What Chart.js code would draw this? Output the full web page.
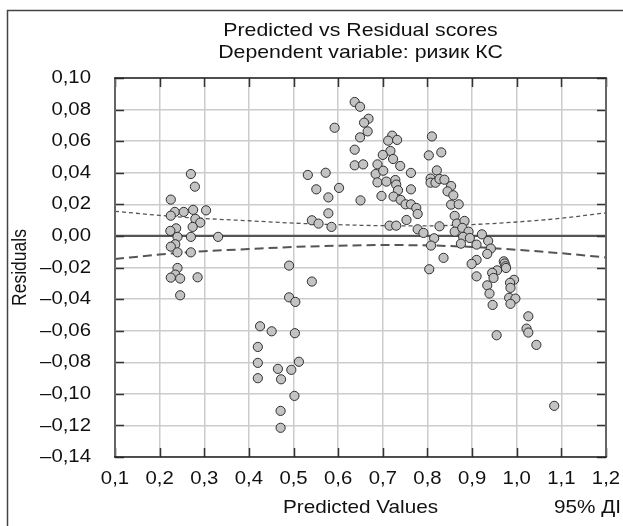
<!DOCTYPE html>
<html>
<head>
<meta charset="utf-8">
<script src="https://cdn.jsdelivr.net/npm/chart.js@4/dist/chart.umd.min.js"></script>
<style>
html,body{margin:0;padding:0;background:#fff;}
canvas{display:block;}
</style>
</head>
<body>
<canvas id="c" width="623" height="526"></canvas>
<script>
const titleLines = ['Predicted vs Residual scores', 'Dependent variable: ризик КС'];
const xAxisTitle = 'Predicted Values';
const yAxisTitle = 'Residuals';
const ciLabel = '95% ДІ';

const xTickValues = [0.1,0.2,0.3,0.4,0.5,0.6,0.7,0.8,0.9,1.0,1.1,1.2];
const xTickLabels = ['0,1','0,2','0,3','0,4','0,5','0,6','0,7','0,8','0,9','1,0','1,1','1,2'];
const yTickValues = [-0.14,-0.12,-0.10,-0.08,-0.06,-0.04,-0.02,0,0.02,0.04,0.06,0.08,0.10];
const yTickLabels = ['–0,14','–0,12','–0,10','–0,08','–0,06','–0,04','–0,02','0,00','0,02','0,04','0,06','0,08','0,10'];

const predicted = [
 0.270,0.279,0.225,0.234,0.225,0.254,0.275,0.304,0.280,0.291,0.274,0.237,0.224,0.240,0.270,0.331,0.235,0.225,0.240,0.270,0.240,0.235,0.225,0.246,0.285,0.246,
 0.490,0.541,0.490,0.504,0.425,0.451,0.503,0.420,0.420,0.512,0.465,0.495,0.420,0.472,0.502,0.471,0.471,
 0.637,0.649,0.668,0.658,0.592,0.666,0.649,0.721,0.712,0.732,0.810,0.637,0.717,0.700,0.723,0.803,0.831,0.637,0.656,0.688,0.739,0.532,0.572,0.684,0.701,0.763,0.821,0.807,0.807,0.818,0.827,0.838,0.551,0.688,0.708,0.728,0.730,0.734,0.763,0.853,0.845,0.858,0.578,0.602,0.650,0.697,0.724,0.740,0.751,0.763,0.775,0.778,0.853,0.870,0.861,0.578,0.541,0.556,0.585,0.715,0.730,0.753,0.827,0.866,0.861,0.778,0.791,0.815,0.808,0.836,0.804,
 0.883,0.878,0.892,0.880,0.895,0.922,0.875,0.936,0.910,0.942,0.934,0.910,0.899,0.971,0.973,0.975,0.976,0.956,0.945,0.948,0.910,0.934,0.939,0.994,0.985,0.986,0.983,0.997,0.946,0.986,1.026,1.022,1.026,0.955,1.044,1.084
];
const residual = [
 0.0392,0.0312,0.0230,0.0152,0.0128,0.0152,0.0165,0.0162,0.0108,0.0084,0.0057,0.0048,0.0032,-0.0006,-0.0006,-0.0006,-0.0053,-0.0068,-0.0104,-0.0104,-0.0203,-0.0245,-0.0264,-0.0270,-0.0262,-0.0376,
 -0.0188,-0.0289,-0.0389,-0.0418,-0.0572,-0.0604,-0.0616,-0.0703,-0.0804,-0.0797,-0.0842,-0.0848,-0.0901,-0.0908,-0.1013,-0.1108,-0.1215,
 0.0848,0.0818,0.0742,0.0717,0.0685,0.0662,0.0624,0.0635,0.0603,0.0608,0.0630,0.0546,0.0538,0.0513,0.0487,0.0510,0.0529,0.0447,0.0453,0.0453,0.0443,0.0386,0.0400,0.0392,0.0413,0.0399,0.0415,0.0363,0.0337,0.0337,0.0361,0.0356,0.0295,0.0339,0.0344,0.0354,0.0325,0.0289,0.0295,0.0316,0.0282,0.0257,0.0244,0.0304,0.0225,0.0253,0.0249,0.0228,0.0200,0.0200,0.0177,0.0139,0.0198,0.0200,0.0127,0.0143,0.0099,0.0078,0.0057,0.0065,0.0065,0.0101,0.0061,0.0078,0.0027,0.0042,0.0019,-0.0015,-0.0061,-0.0139,-0.0211,
 0.0095,0.0051,0.0027,-0.0006,-0.0013,0.0010,-0.0049,-0.0032,-0.0055,-0.0080,-0.0114,-0.0152,-0.0177,-0.0161,-0.0175,-0.0192,-0.0203,-0.0218,-0.0234,-0.0266,-0.0256,-0.0313,-0.0365,-0.0278,-0.0297,-0.0329,-0.0392,-0.0397,-0.0437,-0.0430,-0.0509,-0.0587,-0.0612,-0.0629,-0.0690,-0.1076
];

const ciX     = [0.1,0.2,0.3,0.4,0.5,0.6,0.7,0.8,0.9,1.0,1.1,1.2];
const ciUpper = [0.0156,0.0130,0.0110,0.0096,0.0081,0.0071,0.0065,0.0064,0.0072,0.0088,0.0112,0.0146];
const ciLower = [-0.0146,-0.0118,-0.0097,-0.0083,-0.0070,-0.0062,-0.0058,-0.0060,-0.0070,-0.0088,-0.0110,-0.0136];
const zeroLineX = [0.1, 1.2];
const zeroLineY = [0, 0];

const FONT = '"Liberation Sans", Arial, Helvetica, sans-serif';
const TXT = '#111';

function stretchedText(ctx, text, x, y, align, sx, sizePx) {
  ctx.save();
  ctx.translate(x, y);
  ctx.scale(sx, 1);
  ctx.font = sizePx + 'px ' + FONT;
  ctx.textAlign = align;
  ctx.textBaseline = 'middle';
  ctx.fillText(text, 0, 0);
  ctx.restore();
}

const framePlugin = {
  id: 'framePlugin',
  beforeDraw(chart) {
    const ctx = chart.ctx;
    ctx.save();
    ctx.strokeStyle = '#444';
    ctx.lineWidth = 1.5;
    ctx.beginPath();
    ctx.moveTo(7.5, 526);
    ctx.lineTo(7.5, 10.5);
    ctx.lineTo(623, 10.5);
    ctx.stroke();
    ctx.restore();
  },
  afterDraw(chart) {
    const ctx = chart.ctx;
    const a = chart.chartArea;
    const xs = chart.scales.x, ys = chart.scales.y;
    ctx.save();
    // inward ticks
    ctx.strokeStyle = '#333';
    ctx.lineWidth = 1.5;
    const TL = 9;
    ctx.beginPath();
    xTickValues.forEach(v => {
      const px = Math.round(xs.getPixelForValue(v)) + 0.5;
      ctx.moveTo(px, a.bottom); ctx.lineTo(px, a.bottom - TL);
      ctx.moveTo(px, a.top); ctx.lineTo(px, a.top + TL);
    });
    yTickValues.forEach(v => {
      const py = Math.round(ys.getPixelForValue(v)) + 0.5;
      ctx.moveTo(a.left, py); ctx.lineTo(a.left + TL, py);
      ctx.moveTo(a.right, py); ctx.lineTo(a.right - TL, py);
    });
    ctx.stroke();
    // plot frame
    ctx.lineWidth = 2;
    ctx.strokeStyle = '#666';
    ctx.beginPath();
    ctx.moveTo(a.left, a.top); ctx.lineTo(a.left, a.bottom);
    ctx.moveTo(a.right, a.top); ctx.lineTo(a.right, a.bottom);
    ctx.stroke();
    ctx.strokeStyle = '#222';
    ctx.lineWidth = 1.5;
    ctx.beginPath();
    ctx.moveTo(a.left - 1, a.top); ctx.lineTo(a.right + 1, a.top);
    ctx.moveTo(a.left - 1, a.bottom); ctx.lineTo(a.right + 1, a.bottom);
    ctx.stroke();

    // tick labels (through the library's scales)
    ctx.fillStyle = TXT;
    xTickValues.forEach((v, i) => {
      stretchedText(ctx, xTickLabels[i], xs.getPixelForValue(v), 479, 'center', 1.1, 18.5);
    });
    yTickValues.forEach((v, i) => {
      stretchedText(ctx, yTickLabels[i], 91, ys.getPixelForValue(v), 'right', 1.1, 18.5);
    });

    // titles
    const cx = (a.left + a.right) / 2;
    stretchedText(ctx, titleLines[0], cx, 31, 'center', 1.12, 19);
    stretchedText(ctx, titleLines[1], cx, 53, 'center', 1.12, 19);
    stretchedText(ctx, xAxisTitle, cx, 508, 'center', 1.12, 18.5);
    stretchedText(ctx, ciLabel, 621, 508, 'right', 1.12, 18.5);
    ctx.save();
    ctx.translate(21, (a.top + a.bottom) / 2);
    ctx.rotate(-Math.PI / 2);
    ctx.scale(1, 1.12);
    ctx.font = '17.5px ' + FONT;
    ctx.textAlign = 'center';
    ctx.textBaseline = 'middle';
    ctx.fillText(yAxisTitle, 0, 0);
    ctx.restore();
    ctx.restore();
  }
};

const scatterPoints = predicted.map((x, i) => ({x: x, y: residual[i]}));

new Chart(document.getElementById('c'), {
  type: 'scatter',
  data: {
    datasets: [
      {
        label: 'Residuals',
        data: scatterPoints,
        pointRadius: 4.6,
        pointHoverRadius: 4.6,
        pointBackgroundColor: '#c3c3c3',
        pointBorderColor: '#2e2e2e',
        pointBorderWidth: 1,
        showLine: false,
        order: 0
      },
      {
        label: 'zero',
        data: zeroLineX.map((x, i) => ({x: x, y: zeroLineY[i]})),
        showLine: true, pointRadius: 0,
        borderColor: '#555', borderWidth: 2.2,
        order: 3
      },
      {
        label: 'upper',
        data: ciX.map((x, i) => ({x: x, y: ciUpper[i]})),
        showLine: true, pointRadius: 0, cubicInterpolationMode: 'monotone',
        borderColor: '#555', borderWidth: 1.3, borderDash: [4, 3],
        order: 2
      },
      {
        label: 'lower',
        data: ciX.map((x, i) => ({x: x, y: ciLower[i]})),
        showLine: true, pointRadius: 0, cubicInterpolationMode: 'monotone',
        borderColor: '#555', borderWidth: 2, borderDash: [9, 5],
        order: 1
      }
    ]
  },
  options: {
    responsive: false,
    animation: false,
    devicePixelRatio: 1,
    layout: { padding: { top: 78, right: 17, bottom: 0, left: 0 } },
    plugins: { legend: { display: false }, tooltip: { enabled: false }, title: { display: false } },
    scales: {
      x: {
        type: 'linear', min: 0.1, max: 1.2,
        afterBuildTicks: s => { s.ticks = xTickValues.map(v => ({value: v})); },
        afterFit: s => { s.height = 69; },
        grid: { color: '#cccccc', lineWidth: 1.5, drawTicks: false },
        border: { display: false },
        ticks: { display: false, callback: (v, i) => xTickLabels[i] }
      },
      y: {
        type: 'linear', min: -0.14, max: 0.10,
        afterBuildTicks: s => { s.ticks = yTickValues.map(v => ({value: v})); },
        afterFit: s => { s.width = 115; },
        grid: { color: '#cccccc', lineWidth: 1.5, drawTicks: false },
        border: { display: false },
        ticks: { display: false, callback: (v, i) => yTickLabels[i] }
      }
    }
  },
  plugins: [framePlugin]
});
</script>
</body>
</html>
